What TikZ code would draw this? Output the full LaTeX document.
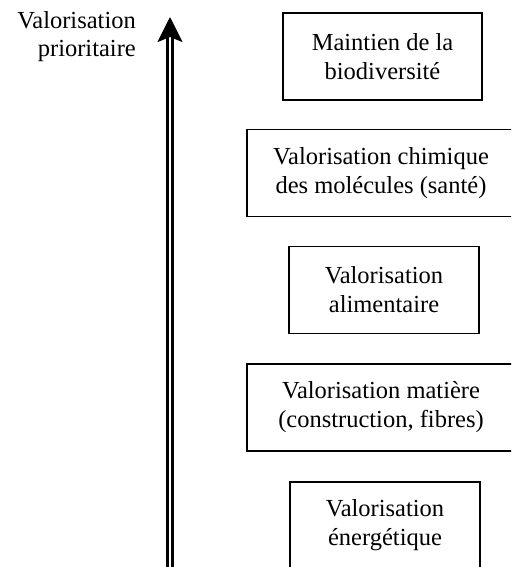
\documentclass[tikz,border=0pt]{standalone}
\usepackage{fontspec}
\setmainfont{Liberation Serif}
\usepackage{tikz}
\usetikzlibrary{arrows.meta}

\begin{document}
\begin{tikzpicture}[x=1pt, y=-1pt, every node/.style={font=\fontsize{24.5}{29}\selectfont},
  boite/.style={draw, line width=1.2pt, align=center, minimum height=87pt, inner sep=0pt}]
\useasboundingbox (0,0) rectangle (511,567);
\clip (0,0) rectangle (511,567);

\node[anchor=east, align=right, inner sep=0pt, font=\fontsize{24.5}{28}\selectfont] (titre) at (136,37) {Valorisation\\prioritaire};

% Axe
\coordinate (bas) at (170,575);
\coordinate (haut) at (170,17);
\draw[double, double distance=2.4pt, line width=2.8pt, -{Stealth[length=25pt, width=25pt, inset=5pt]}] (bas) -- (haut);

% Boites
\foreach \n/\cx/\cy/\w/\txt in {1/382.5/56.5/199/{Maintien de la\\biodiversité},
    2/381/173/268/{Valorisation chimique\\des molécules (santé)},
    3/384/290/190/{Valorisation\\alimentaire},
    4/381/407.5/268/{Valorisation matière\\(construction, fibres)},
    5/385/525.5/190/{Valorisation\\énergétique}} {
    \node[boite, minimum width=\w pt] (b\n) at (\cx,\cy) {\txt};
}
\end{tikzpicture}
\end{document}
